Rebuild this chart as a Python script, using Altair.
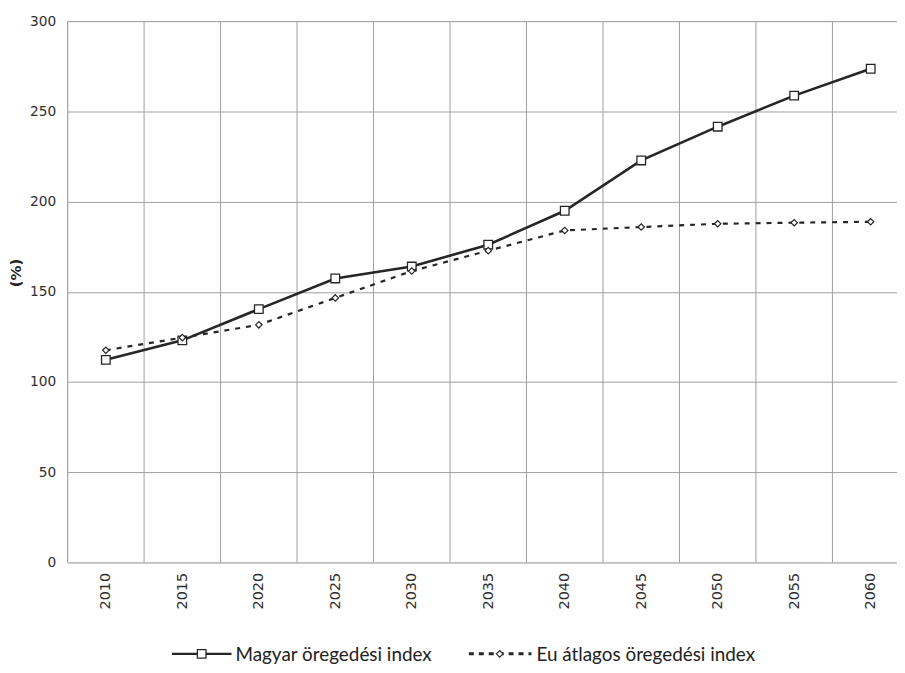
import altair as alt
import pandas as pd

# ---- data ----
years = [2010, 2015, 2020, 2025, 2030, 2035, 2040, 2045, 2050, 2055, 2060]
magyar = [112.3, 123.1, 140.4, 157.4, 164.0, 176.1, 194.9, 222.8, 241.5, 258.7, 273.6]
eu = [117.6, 124.6, 131.7, 146.6, 161.5, 172.8, 184.0, 185.9, 187.7, 188.3, 188.8]
series_names = ["Magyar öregedési index", "Eu átlagos öregedési index"]
y_ticks = [0, 50, 100, 150, 200, 250, 300]
grid_years = [2007.5, 2012.5, 2017.5, 2022.5, 2027.5, 2032.5, 2037.5, 2042.5, 2047.5, 2052.5, 2057.5]

W, H = 835, 545
PX_PER_YEAR = 15.4
INK = "#262626"
GRID = "#9e9e9e"

df = pd.DataFrame({
    "year": years * 2,
    "value": magyar + eu,
    "series": [series_names[0]] * len(years) + [series_names[1]] * len(years),
})
df_m = df[df.series == series_names[0]]
df_e = df[df.series == series_names[1]]
grid_df = pd.DataFrame({"year": grid_years})

xscale = alt.Scale(domain=[2007.5, 2007.5 + W / PX_PER_YEAR], nice=False, zero=False)
yscale = alt.Scale(domain=[0, 300], nice=False, zero=True)

x_enc = alt.X("year:Q", scale=xscale, title=None,
              axis=alt.Axis(values=years, format="d", labelAngle=-90, labelAlign="right",
                            labelBaseline="middle", labelPadding=10, ticks=False, tickSize=0,
                            domain=False, grid=False, labelFont="DejaVu Sans",
                            labelFontSize=14.5, labelColor="#2e2e2e"))
y_enc = alt.Y("value:Q", scale=yscale, title="(%)",
              axis=alt.Axis(values=y_ticks, grid=True, gridColor=GRID, gridWidth=1,
                            ticks=False, tickSize=0, domain=False, labelPadding=12,
                            labelFont="DejaVu Sans", labelFontSize=13.8, labelColor="#2e2e2e",
                            titleFont="DejaVu Sans", titleFontSize=15, titleFontWeight="bold",
                            titleColor="#222222", titleAngle=-90, titleBaseline="middle",
                            titleAlign="center", titleX=-52, titleY=253))

vgrid = alt.Chart(grid_df).mark_rule(color=GRID, strokeWidth=1).encode(
    x=alt.X("year:Q", scale=xscale),
    y=alt.datum(0, scale=yscale),
    y2=alt.datum(300),
)

line_m = alt.Chart(df_m).mark_line(color=INK, strokeWidth=2.6).encode(x=x_enc, y=y_enc)
pts_m = alt.Chart(df_m).mark_point(shape="square", size=75, filled=True, fill="white",
                                   stroke=INK, strokeWidth=1.3, opacity=1).encode(
    x="year:Q", y="value:Q")
line_e = alt.Chart(df_e).mark_line(color=INK, strokeWidth=2.2, strokeDash=[5, 6]).encode(
    x="year:Q", y="value:Q")
pts_e = alt.Chart(df_e).mark_point(shape="diamond", size=42, filled=True, fill="white",
                                   stroke=INK, strokeWidth=1.2, opacity=1).encode(
    x="year:Q", y="value:Q")

# ---- custom legend (line + marker symbols), placed below the x labels ----
leg = pd.DataFrame({"label": series_names})
LY = 637
leg_line_m = alt.Chart(leg.iloc[[0]]).mark_rule(color=INK, strokeWidth=2.2).encode(
    x=alt.value(105), x2=alt.value(165), y=alt.value(LY))
leg_pt_m = alt.Chart(leg.iloc[[0]]).mark_point(shape="square", size=75, filled=True,
                                               fill="white", stroke=INK, strokeWidth=1.3,
                                               opacity=1).encode(
    x=alt.value(135), y=alt.value(LY))
leg_txt_m = alt.Chart(leg.iloc[[0]]).mark_text(align="left", baseline="middle",
                                               font="Lato", fontSize=19, color="#222222").encode(
    x=alt.value(169), y=alt.value(LY + 1), text="label:N")
leg_line_e = alt.Chart(leg.iloc[[1]]).mark_rule(color=INK, strokeWidth=3,
                                                strokeDash=[5, 5]).encode(
    x=alt.value(404), x2=alt.value(467), y=alt.value(LY))
leg_pt_e = alt.Chart(leg.iloc[[1]]).mark_point(shape="diamond", size=45, filled=True,
                                               fill="white", stroke=INK, strokeWidth=1.2,
                                               opacity=1).encode(
    x=alt.value(435), y=alt.value(LY))
leg_txt_e = alt.Chart(leg.iloc[[1]]).mark_text(align="left", baseline="middle",
                                               font="Lato", fontSize=19, color="#222222").encode(
    x=alt.value(472), y=alt.value(LY + 1), text="label:N")

chart = alt.layer(
    vgrid, line_m, pts_m, line_e, pts_e,
    leg_line_m, leg_pt_m, leg_txt_m, leg_line_e, leg_pt_e, leg_txt_e,
).properties(
    width=W, height=H,
    autosize=alt.AutoSizeParams(type="none"),
    padding={"left": 60, "top": 11, "right": 0, "bottom": 100},
).configure_view(stroke=None).configure(background="white")

chart.save("out.html", embed_options={"renderer": "svg", "actions": False})
